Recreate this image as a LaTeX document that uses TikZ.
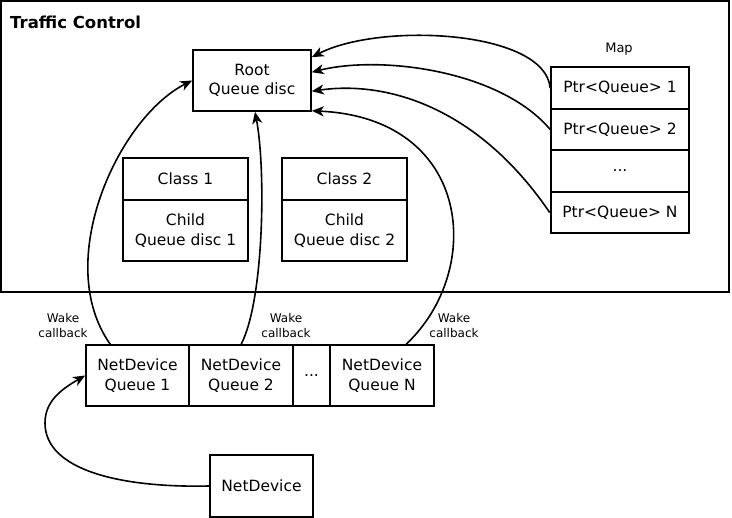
\documentclass[tikz,border=0pt]{standalone}
\usepackage{fontspec}
\setmainfont{DejaVu Sans}
\usetikzlibrary{arrows.meta,calc}
\begin{document}
\begin{tikzpicture}[x=1pt,y=-1pt,
  box/.style={draw, line width=1.6pt, inner sep=0pt, align=center, font=\fontsize{15.5}{19.5}\selectfont},
  lbl/.style={inner sep=0pt, align=center, font=\fontsize{12}{15}\selectfont},
  arr/.style={line width=1.6pt, -{Stealth[length=12pt,width=10pt,inset=3.5pt]}},
  ln/.style={line width=1.6pt}]
\useasboundingbox (0,0) rectangle (732,518);
% frame
\node[draw, line width=1.8pt, inner sep=0pt, minimum width=728, minimum height=291] (tc) at (365,146.5) {};
\node[anchor=west, inner sep=0pt, font=\fontsize{16.5}{19}\selectfont\bfseries] (tctitle) at (10,22) {Traffic Control};
% root
\node[box, minimum width=118, minimum height=61] (root) at (252,80.5) {Root\\Queue disc};
% classes
\node[box, minimum width=125, minimum height=42] (c1) at (185.5,179) {Class 1};
\node[box, minimum width=125, minimum height=61] (ch1) at (185.5,230.5) {Child\\Queue disc 1};
\node[box, minimum width=125, minimum height=42] (c2) at (344.5,179) {Class 2};
\node[box, minimum width=125, minimum height=61] (ch2) at (344.5,230.5) {Child\\Queue disc 2};
% map
\node[lbl, font=\fontsize{13}{15}\selectfont] (maplbl) at (619,49) {Map};
\node[box, minimum width=138, minimum height=42] (p1) at (620,88) {Ptr<Queue> 1};
\node[box, minimum width=138, minimum height=41] (p2) at (620,129.5) {Ptr<Queue> 2};
\node[box, minimum width=138, minimum height=42] (pd) at (620,171) {...};
\node[box, line width=2.6pt, minimum width=138, minimum height=41] (pn) at (620,212.5) {Ptr<Queue> N};
% queues
\node[box, minimum width=103, minimum height=61] (q1) at (137.5,375.5) {NetDevice\\Queue 1};
\node[box, minimum width=104, minimum height=61] (q2) at (241,375.5) {NetDevice\\Queue 2};
\node[box, minimum width=37, minimum height=61] (qd) at (311.5,375.5) {...};
\node[box, minimum width=104, minimum height=61] (qn) at (382,375.5) {NetDevice\\Queue N};
\node[box, minimum width=103, minimum height=62] (nd) at (261.5,486) {NetDevice};
% labels
\node[lbl] (w1) at (63,326) {Wake\\callback};
\node[lbl] (w2) at (286,326) {Wake\\callback};
\node[lbl] (w3) at (454,326) {Wake\\callback};
% wake arrows
\draw[arr] ($(q1.north west)+(25,0)$) .. controls (52,262) and (118,118) .. (root.west);
\draw[arr] ($(q2.north west)+(53,0)$) .. controls (264,300) and (266,170) .. ($(root.south)+(3,0)$);
\draw[arr] ($(qn.north west)+(77,0)$) .. controls (485,270) and (472,118) .. ($(root.south east)+(0,-1)$);
% map arrows
\draw[arr] (p1.west) .. controls (545,30) and (380,22) .. ($(root.north east)+(0,8)$);
\draw[arr] (p2.west) .. controls (500,70) and (380,55) .. ($(root.north east)+(0,23)$);
\draw[arr] (pn.west) .. controls (480,110) and (390,80) .. ($(root.north east)+(0,42)$);
% netdevice arrow
\draw[arr] (nd.west) .. controls (120,488) and (45,470) .. (45,423) .. controls (45,402) and (60,390) .. (q1.west);
\end{tikzpicture}
\end{document}
